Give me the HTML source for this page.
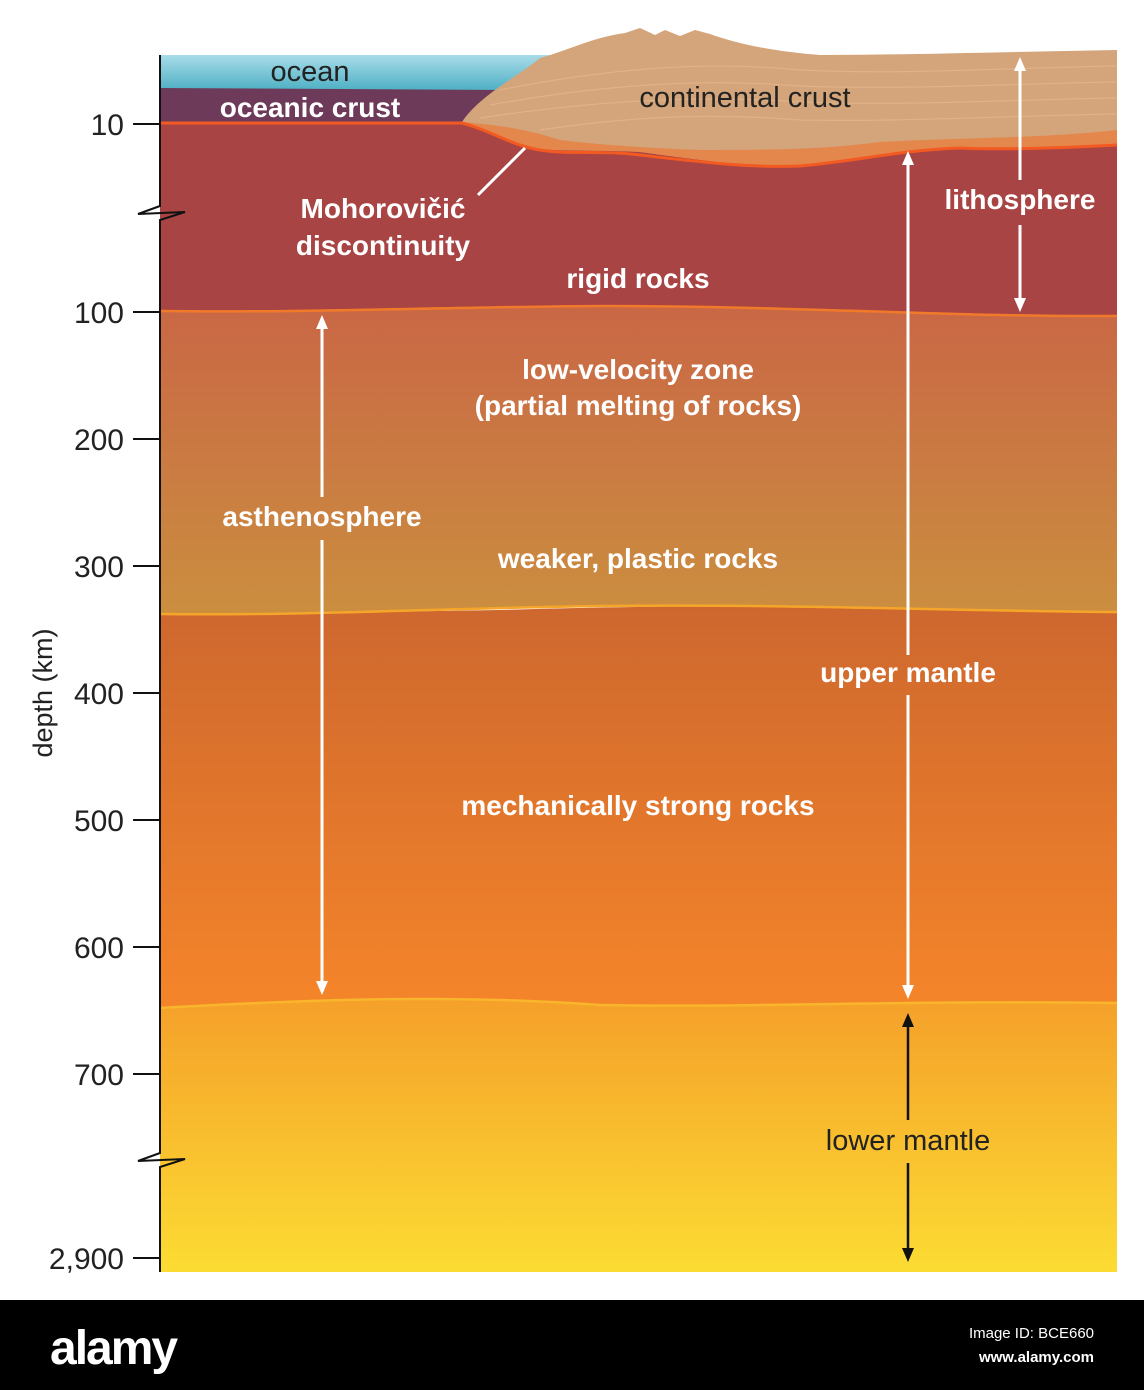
<!DOCTYPE html>
<html><head><meta charset="utf-8"><style>
body{margin:0;background:#fff}
svg{display:block}
text{font-family:"Liberation Sans",sans-serif}
</style></head><body>
<svg width="1144" height="1390" viewBox="0 0 1144 1390" xmlns="http://www.w3.org/2000/svg">
<defs>
<linearGradient id="lv" x1="0" y1="0" x2="0" y2="1"><stop offset="0" stop-color="#c96745"/><stop offset="1" stop-color="#cb8e3f"/></linearGradient>
<linearGradient id="ms" x1="0" y1="0" x2="0" y2="1"><stop offset="0" stop-color="#cd672e"/><stop offset="1" stop-color="#f5852a"/></linearGradient>
<linearGradient id="lm" x1="0" y1="0" x2="0" y2="1"><stop offset="0" stop-color="#f5a02a"/><stop offset="1" stop-color="#fcdc33"/></linearGradient>
<linearGradient id="oc" x1="0" y1="0" x2="0" y2="1"><stop offset="0" stop-color="#a8dce9"/><stop offset="1" stop-color="#4fb0c4"/></linearGradient>
<marker id="aw" markerWidth="14" markerHeight="16" refX="7" refY="8" orient="auto-start-reverse" markerUnits="userSpaceOnUse"><path d="M0,2 L14,8 L0,14 Z" fill="#fff"/></marker>
<marker id="ab" markerWidth="14" markerHeight="16" refX="7" refY="8" orient="auto-start-reverse" markerUnits="userSpaceOnUse"><path d="M0,2 L14,8 L0,14 Z" fill="#111"/></marker>
</defs>
<rect x="160" y="1000" width="957" height="272" fill="url(#lm)"/>
<path d="M160,1008 C300,1000 450,994 600,1005 C750,1008 900,1000 1117,1003 L1117,612 C900,605 700,604 500,610 C350,612 250,616 160,614 Z" fill="url(#ms)"/>
<path d="M160,614 C300,616 450,608 600,606 C800,604 950,611 1117,612 L1117,316 C900,316 750,305 600,306 C400,310 300,313 160,311 Z" fill="url(#lv)"/>
<path d="M160,311 C300,313 450,307 600,306 C800,306 950,317 1117,316 L1117,120 L160,120 Z" fill="#a94445"/>
<rect x="160" y="55" width="390" height="35" fill="url(#oc)"/>
<path d="M160,88 L515,90 L470,122 L160,122 Z" fill="#6e3a5a"/>
<path d="M462,122 C480,95 520,75 540,58 C570,50 590,38 625,33 L640,28 L655,35 L665,30 L680,36 L695,30 L710,34 C740,45 780,52 820,55 C900,55 1000,52 1117,50 L1117,145 C1060,148 1000,150 960,148 C900,150 850,165 800,162 C750,168 700,160 640,152 C600,148 560,140 530,148 C500,138 480,128 462,122 Z" fill="#d4a47a"/>
<g fill="none" stroke="#e2b68c" stroke-width="1.2" opacity="0.8">
<path d="M500,90 C600,70 700,60 800,70 C900,75 1000,68 1117,66"/>
<path d="M490,105 C600,85 700,78 800,86 C900,90 1000,84 1117,82"/>
<path d="M480,118 C600,100 700,95 800,102 C900,106 1000,100 1117,98"/>
<path d="M540,130 C620,118 700,112 800,120 C900,122 1000,116 1117,114"/>
</g>
<path d="M462,122 C500,125 530,130 560,140 C600,145 650,148 700,150 C760,150 820,150 880,142 C950,138 1050,138 1117,130 L1117,145 C1050,148 1000,150 960,148 C900,150 850,165 800,166 C750,168 700,160 640,152 C600,150 560,152 530,148 C500,138 480,128 462,122 Z" fill="#e3874d"/>
<path d="M160,123 L462,123 C490,130 510,145 540,150 C570,155 600,150 640,155 C700,162 750,168 800,166 C850,162 900,150 960,148 C1000,150 1060,148 1117,145" fill="none" stroke="#f25a22" stroke-width="3"/>
<path d="M160,311 C300,313 450,307 600,306 C800,306 950,317 1117,316" fill="none" stroke="#f07a2a" stroke-width="2.5"/>
<path d="M160,614 C300,616 450,608 600,606 C800,604 950,611 1117,612" fill="none" stroke="#f5a52a" stroke-width="2.5"/>
<path d="M160,1008 C300,1000 450,994 600,1005 C750,1008 900,1000 1117,1003" fill="none" stroke="#f9b52b" stroke-width="2.5"/>
<path d="M160,55 L160,206 L138,214 L185,212 L160,220 L160,1153 L138,1161 L185,1159 L160,1167 L160,1272" fill="none" stroke="#111" stroke-width="2"/>
<g stroke="#111" stroke-width="2">
<line x1="133" y1="124" x2="160" y2="124"/><line x1="133" y1="312" x2="160" y2="312"/><line x1="133" y1="439" x2="160" y2="439"/><line x1="133" y1="566" x2="160" y2="566"/><line x1="133" y1="693" x2="160" y2="693"/><line x1="133" y1="820" x2="160" y2="820"/><line x1="133" y1="947" x2="160" y2="947"/><line x1="133" y1="1074" x2="160" y2="1074"/><line x1="133" y1="1258" x2="160" y2="1258"/>
</g>
<g font-size="30" fill="#222" text-anchor="end">
<text x="124" y="135">10</text><text x="124" y="323">100</text><text x="124" y="450">200</text><text x="124" y="577">300</text><text x="124" y="704">400</text><text x="124" y="831">500</text><text x="124" y="958">600</text><text x="124" y="1085">700</text><text x="124" y="1269">2,900</text>
</g>
<text transform="translate(52,693) rotate(-90)" font-size="27" fill="#222" text-anchor="middle">depth (km)</text>
<g stroke="#fff" stroke-width="3" fill="none">
<line x1="1020" y1="64" x2="1020" y2="180" marker-start="url(#aw)"/>
<line x1="1020" y1="225" x2="1020" y2="305" marker-end="url(#aw)"/>
<line x1="908" y1="158" x2="908" y2="655" marker-start="url(#aw)"/>
<line x1="908" y1="695" x2="908" y2="992" marker-end="url(#aw)"/>
<line x1="322" y1="322" x2="322" y2="497" marker-start="url(#aw)"/>
<line x1="322" y1="540" x2="322" y2="988" marker-end="url(#aw)"/>
<line x1="525" y1="148" x2="478" y2="195"/>
</g>
<g stroke="#111" stroke-width="2.5">
<line x1="908" y1="1020" x2="908" y2="1120" marker-start="url(#ab)"/>
<line x1="908" y1="1163" x2="908" y2="1255" marker-end="url(#ab)"/>
</g>
<g font-size="28" text-anchor="middle" font-weight="bold" fill="#fff">
<text x="310" y="117">oceanic crust</text>
<text x="383" y="218">Mohorovičić</text>
<text x="383" y="255">discontinuity</text>
<text x="638" y="288">rigid rocks</text>
<text x="1020" y="209">lithosphere</text>
<text x="638" y="379">low-velocity zone</text>
<text x="638" y="415">(partial melting of rocks)</text>
<text x="322" y="526">asthenosphere</text>
<text x="638" y="568">weaker, plastic rocks</text>
<text x="908" y="682">upper mantle</text>
<text x="638" y="815">mechanically strong rocks</text>
</g>
<g font-size="29" text-anchor="middle" fill="#222">
<text x="310" y="81">ocean</text>
<text x="745" y="107">continental crust</text>
<text x="908" y="1150">lower mantle</text>
</g>
<rect x="0" y="1300" width="1144" height="90" fill="#000"/>
<text x="50" y="1364" font-size="48" font-weight="bold" fill="#fff" letter-spacing="-2">alamy</text>
<text x="1094" y="1338" font-size="15" fill="#fff" text-anchor="end">Image ID: BCE660</text>
<text x="1094" y="1362" font-size="15" font-weight="bold" fill="#fff" text-anchor="end">www.alamy.com</text>
</svg>
</body></html>
